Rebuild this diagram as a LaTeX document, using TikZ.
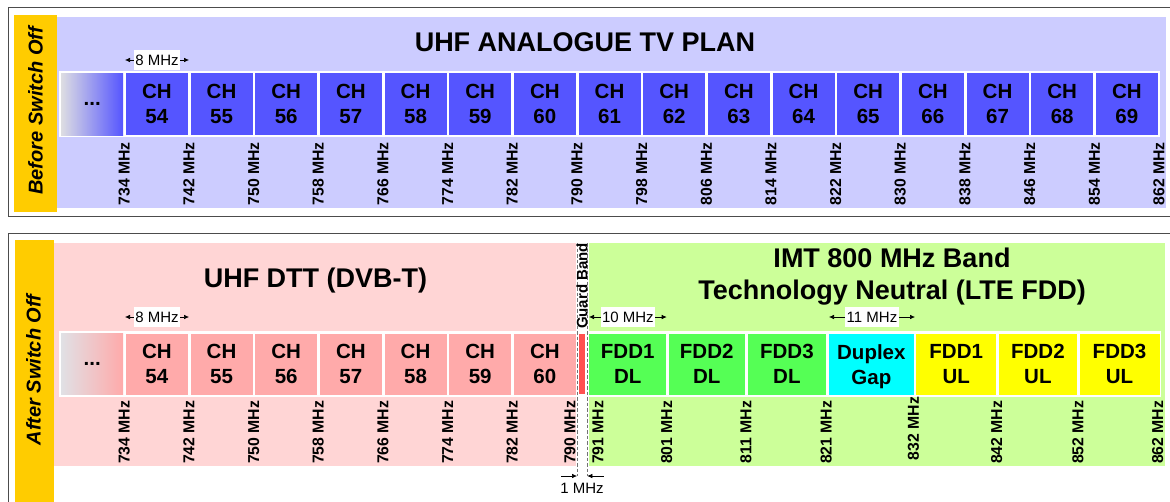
\documentclass[tikz,border=0pt]{standalone}
\usepackage{fontspec}
\setmainfont{Liberation Sans}
\usetikzlibrary{arrows.meta}

\definecolor{lav}{HTML}{CCCCFF}
\definecolor{chblue}{HTML}{5555FF}
\definecolor{tagorange}{HTML}{FFCC00}
\definecolor{rose}{HTML}{FFD5D5}
\definecolor{chpink}{HTML}{FFAAAA}
\definecolor{guardred}{HTML}{FF5050}
\definecolor{lime}{HTML}{CCFF99}
\definecolor{fddgreen}{HTML}{55FF55}
\definecolor{gapcyan}{HTML}{00FFFF}
\definecolor{ulyellow}{HTML}{FFFF00}
\definecolor{fadegray}{HTML}{DDDDE2}

\begin{document}
\begin{tikzpicture}[x=1pt,y=-1pt,
  frame/.style={draw=black!70, line width=1.5pt},
  cell/.style={anchor=north west, inner sep=0pt, minimum height=#1, align=center,
    text depth=0pt, font=\bfseries\fontsize{20.5}{25}\selectfont},
  cell/.default=62pt,
  freq/.style={rotate=90, anchor=east, inner sep=0pt,
    font=\bfseries\fontsize{15.8}{18}\selectfont},
  sidetag/.style={rotate=90, inner sep=0pt,
    font=\bfseries\itshape\fontsize{20}{24}\selectfont},
  bandtitle/.style={inner sep=0pt, align=center, text depth=0pt,
    font=\bfseries\fontsize{27}{32}\selectfont},
  dimline/.style={line width=0.6pt, {Latex[length=5pt,width=4.5pt]}-{Latex[length=5pt,width=4.5pt]}},
  oneway/.style={line width=0.6pt, -{Latex[length=5pt,width=4.5pt]}},
  dimlabel/.style={fill=white, inner xsep=1.5pt, inner ysep=0pt, minimum height=19.5pt,
    font=\fontsize{15}{18}\selectfont},
  guardline/.style={draw=black!55, line width=1pt, dash pattern=on 3.5pt off 2pt},
]
\useasboundingbox (0,0) rectangle (1170,501);
\clip (0,0) rectangle (1170,501);
\fill[white] (0,0) rectangle (1170,501);

% ---------------- upper panel: analogue plan ----------------
\draw[frame] (8.5,7.5) rectangle (1185,216.5);
\fill[tagorange] (14,15) rectangle (57,211.7);
\fill[lav] (57,16.7) rectangle (1165.7,207.5);
\node[sidetag] (before) at (35.5,111) {Before Switch Off};
\node[bandtitle] (analogue) at (585,42.5) {UHF ANALOGUE TV PLAN};

\fill[white] (59,71) rectangle (1159.7,137);
\node[cell, minimum width=62pt, left color=fadegray, right color=chblue] (topdots) at (61,73) {...};
\foreach \i in {1,...,16}{
  \pgfmathtruncatemacro{\ch}{53+\i}
  \node[cell, minimum width=62pt, fill=chblue] (top\ch) at ({61+64.667*\i},73) {CH\\\ch};
}
\foreach \i in {0,...,16}{
  \pgfmathtruncatemacro{\f}{734+8*\i}
  \node[freq] (ft\f) at ({124.3+64.667*\i},142) {\f\ MHz};
}
\coordinate (t8a) at (125,60);
\coordinate (t8b) at (189,60);
\draw[dimline] (t8a) -- (t8b) node[midway, dimlabel] (t8) {8 MHz};

% ---------------- lower panel: after switch-off ----------------
\draw[frame] (8.5,233.5) rectangle (1185,520);
\fill[tagorange] (15,240) rectangle (54,510);
\node[sidetag] (after) at (33.5,370) {After Switch Off};
\fill[rose] (54,243.3) rectangle (576,465.7);
\fill[lime] (589,243.3) rectangle (1165,465.7);
\node[bandtitle] (dtt) at (315.5,278) {UHF DTT (DVB-T)};
\node[bandtitle] (imt) at (892,274) {IMT 800 MHz Band\\Technology Neutral (LTE FDD)};

\fill[white] (59,331) rectangle (1161,396.7);
\node[cell=60.8pt, minimum width=62pt, left color=fadegray!90!white, right color=chpink] (botdots) at (61,333.5) {...};
\foreach \i in {1,...,7}{
  \pgfmathtruncatemacro{\ch}{53+\i}
  \node[cell=60.8pt, minimum width=62pt, fill=chpink] (bot\ch) at ({61+64.667*\i},333.5) {CH\\\ch};
}
\fill[guardred] (579,333.5) rectangle (585.3,394.3);
\node[cell=60.8pt, minimum width=77pt, fill=fddgreen] (fdd1dl) at (589,333.5) {FDD1\\DL};
\node[cell=60.8pt, minimum width=75.6pt, fill=fddgreen] (fdd2dl) at (668.7,333.5) {FDD2\\DL};
\node[cell=60.8pt, minimum width=78pt, fill=fddgreen] (fdd3dl) at (747.7,333.5) {FDD3\\DL};
\node[cell=60.8pt, minimum width=84.3pt, fill=gapcyan] (duplex) at (829,333.5) {Duplex\\Gap};
\node[cell=60.8pt, minimum width=80pt, fill=ulyellow] (fdd1ul) at (916,333.5) {FDD1\\UL};
\node[cell=60.8pt, minimum width=78pt, fill=ulyellow] (fdd2ul) at (998.7,333.5) {FDD2\\UL};
\node[cell=60.8pt, minimum width=80pt, fill=ulyellow] (fdd3ul) at (1079.3,333.5) {FDD3\\UL};

% guard band between the DTT and the LTE blocks
\coordinate (gla) at (577,243);
\coordinate (glb) at (577,476);
\coordinate (gra) at (587.3,243);
\coordinate (grb) at (587.3,476);
\draw[guardline] (gla) -- (glb);
\draw[guardline] (gra) -- (grb);
\node[rotate=90, inner sep=0pt, font=\bfseries\fontsize{15}{18}\selectfont] (guard) at (582,286) {Guard Band};

\foreach \i in {0,...,6}{
  \pgfmathtruncatemacro{\f}{734+8*\i}
  \node[freq] (fb\f) at ({124.3+64.667*\i},400.5) {\f\ MHz};
}
\node[freq] (fb790) at (570,400.5) {790 MHz};
\node[freq] (fb791) at (598,400.5) {791 MHz};
\node[freq] (fb801) at (666.7,400.5) {801 MHz};
\node[freq] (fb811) at (746,400.5) {811 MHz};
\node[freq] (fb821) at (826.3,400.5) {821 MHz};
\node[freq] (fb832) at (913.5,396.7) {832 MHz};
\node[freq] (fb842) at (996.7,400.5) {842 MHz};
\node[freq] (fb852) at (1078,400.5) {852 MHz};
\node[freq] (fb862) at (1157.7,400.5) {862 MHz};

\coordinate (b8a) at (125,317);
\coordinate (b8b) at (189,317);
\draw[dimline] (b8a) -- (b8b) node[midway, dimlabel] (b8) {8 MHz};
\coordinate (d10a) at (589,317);
\coordinate (d10b) at (666.7,317);
\draw[dimline] (d10a) -- (d10b) node[midway, dimlabel] (d10) {10 MHz};
\coordinate (d11a) at (829,317);
\coordinate (d11b) at (915,317);
\draw[dimline] (d11a) -- (d11b) node[midway, dimlabel] (d11) {11 MHz};

% 1 MHz guard width
\coordinate (g1a) at (561,476);
\coordinate (g1b) at (603.5,476);
\draw[oneway] (g1a) -- (glb);
\draw[oneway] (g1b) -- (grb);
\node[inner sep=0pt, font=\fontsize{15}{18}\selectfont] (g1) at (582,488.5) {1 MHz};
\end{tikzpicture}
\end{document}
